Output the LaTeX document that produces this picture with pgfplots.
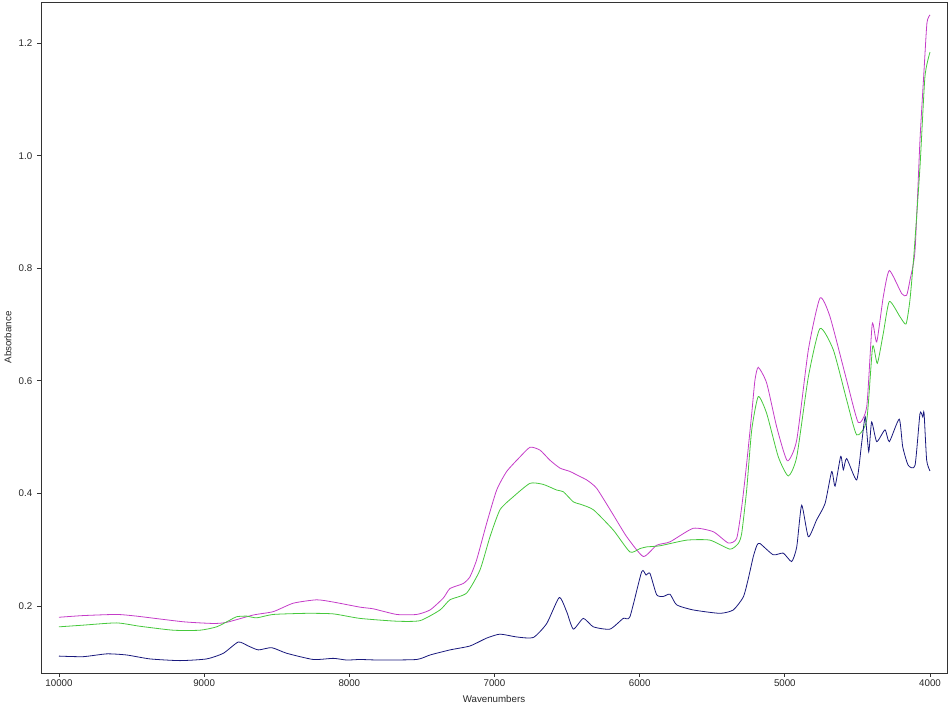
\documentclass[border=0pt]{standalone}
\usepackage{pgfplots}
\pgfplotsset{compat=1.18}
\usepackage{fontspec}
\setmainfont{Liberation Sans}
\definecolor{cmag}{RGB}{196,60,200}
\definecolor{cgrn}{RGB}{70,200,60}
\definecolor{cnav}{RGB}{25,25,125}
\begin{document}
\begin{tikzpicture}
\useasboundingbox (-30.75pt,-30pt) rectangle (681.75pt,504.75pt);
\begin{axis}[
  scale only axis, width=679.5pt, height=503.25pt,
  x dir=reverse,
  xmin=3883, xmax=10124, ymin=0.081, ymax=1.273,
  xtick={4000,5000,6000,7000,8000,9000,10000},
  ytick={0.2,0.4,0.6,0.8,1.0,1.2},
  scaled x ticks=false, scaled y ticks=false,
  tick pos=left, tick align=outside,
  major tick length=3pt,
  axis line style={black!80, line width=0.6pt},
  every tick/.style={black!80, line width=0.6pt},
  tick label style={font=\fontsize{7.3}{8.8}\selectfont, text=black!85},
  xticklabel style={inner sep=1.5pt},
  label style={font=\fontsize{7.3}{8.8}\selectfont, text=black!85},
  /pgf/number format/assume math mode=true,
  xticklabel style={/pgf/number format/.cd, fixed, precision=0, 1000 sep={}},
  yticklabel style={/pgf/number format/.cd, fixed, fixed zerofill, precision=1},
  xlabel={Wavenumbers}, ylabel={Absorbance},
  xlabel style={at={(axis description cs:0.5,-0.0387)}, anchor=center},
  ylabel style={at={(axis description cs:-0.0364,0.5)}, anchor=center},
]
\addplot[cmag, line width=0.6pt, smooth, tension=0.35] coordinates {
(10000,0.180)(9833,0.183)(9603,0.185)(9465,0.182)(9144,0.172)(8937,0.169)(8845,0.171)
(8662,0.184)(8524,0.190)(8386,0.205)(8225,0.211)(8110,0.207)(7927,0.198)(7835,0.195)
(7674,0.185)(7536,0.185)(7444,0.193)(7353,0.214)(7307,0.231)(7215,0.240)(7169,0.252)
(7123,0.282)(7054,0.347)(6985,0.406)(6916,0.439)(6824,0.465)(6755,0.482)(6687,0.477)
(6618,0.459)(6549,0.445)(6480,0.439)(6411,0.430)(6365,0.424)(6296,0.409)(6182,0.362)
(6089,0.323)(5975,0.288)(5883,0.308)(5791,0.314)(5631,0.338)(5493,0.332)(5390,0.312)
(5332,0.320)(5297,0.376)(5263,0.453)(5228,0.542)(5206,0.601)(5183,0.624)(5125,0.596)
(5056,0.518)(4983,0.458)(4918,0.495)(4838,0.655)(4758,0.747)(4689,0.714)(4574,0.601)
(4494,0.526)(4436,0.554)(4398,0.701)(4367,0.669)(4322,0.749)(4280,0.796)(4195,0.755)
(4161,0.752)(4138,0.779)(4103,0.832)(4069,1.028)(4041,1.152)(4021,1.236)(4000,1.250)
};
\addplot[cgrn, line width=0.6pt, smooth, tension=0.35] coordinates {
(10000,0.163)(9833,0.166)(9603,0.170)(9442,0.164)(9213,0.157)(9029,0.157)(8914,0.163)
(8822,0.175)(8776,0.181)(8707,0.182)(8638,0.179)(8524,0.185)(8294,0.187)(8110,0.186)
(7927,0.178)(7674,0.173)(7513,0.174)(7375,0.193)(7307,0.211)(7192,0.223)(7100,0.264)
(7031,0.323)(6962,0.371)(6871,0.394)(6755,0.418)(6664,0.416)(6572,0.406)(6526,0.403)
(6457,0.385)(6411,0.381)(6319,0.371)(6182,0.335)(6067,0.296)(5998,0.302)(5952,0.305)
(5860,0.307)(5676,0.317)(5516,0.317)(5378,0.301)(5321,0.311)(5297,0.329)(5263,0.406)
(5228,0.513)(5183,0.572)(5125,0.542)(5045,0.465)(4976,0.431)(4918,0.465)(4838,0.607)
(4758,0.693)(4666,0.655)(4574,0.566)(4505,0.504)(4436,0.530)(4395,0.661)(4363,0.631)
(4322,0.684)(4280,0.741)(4207,0.714)(4165,0.701)(4138,0.744)(4110,0.827)(4069,0.980)
(4035,1.140)(4000,1.184)
};
\addplot[cnav, line width=0.6pt, smooth, tension=0.35] coordinates {
(10000,0.111)(9833,0.110)(9671,0.115)(9534,0.113)(9373,0.106)(9166,0.103)(8983,0.106)
(8868,0.116)(8765,0.136)(8696,0.129)(8627,0.122)(8535,0.126)(8431,0.116)(8248,0.105)
(8110,0.107)(8018,0.104)(7927,0.105)(7789,0.104)(7536,0.105)(7444,0.113)(7307,0.122)
(7169,0.129)(7054,0.143)(6962,0.150)(6847,0.145)(6733,0.144)(6640,0.169)(6554,0.215)
(6503,0.190)(6457,0.159)(6388,0.178)(6319,0.163)(6204,0.159)(6113,0.178)(6067,0.181)
(5986,0.261)(5956,0.255)(5929,0.258)(5883,0.220)(5837,0.217)(5791,0.221)(5745,0.202)
(5631,0.193)(5447,0.187)(5355,0.193)(5286,0.216)(5254,0.246)(5217,0.288)(5192,0.308)
(5171,0.311)(5080,0.291)(5011,0.294)(4953,0.279)(4918,0.305)(4884,0.379)(4838,0.323)
(4781,0.353)(4723,0.382)(4677,0.439)(4654,0.413)(4615,0.466)(4597,0.442)(4574,0.462)
(4505,0.424)(4471,0.489)(4446,0.536)(4422,0.474)(4402,0.527)(4367,0.492)(4310,0.513)
(4280,0.492)(4212,0.532)(4188,0.483)(4150,0.450)(4103,0.450)(4069,0.542)(4050,0.536)
(4041,0.543)(4023,0.459)(4000,0.440)
};
\end{axis}
\end{tikzpicture}
\end{document}
